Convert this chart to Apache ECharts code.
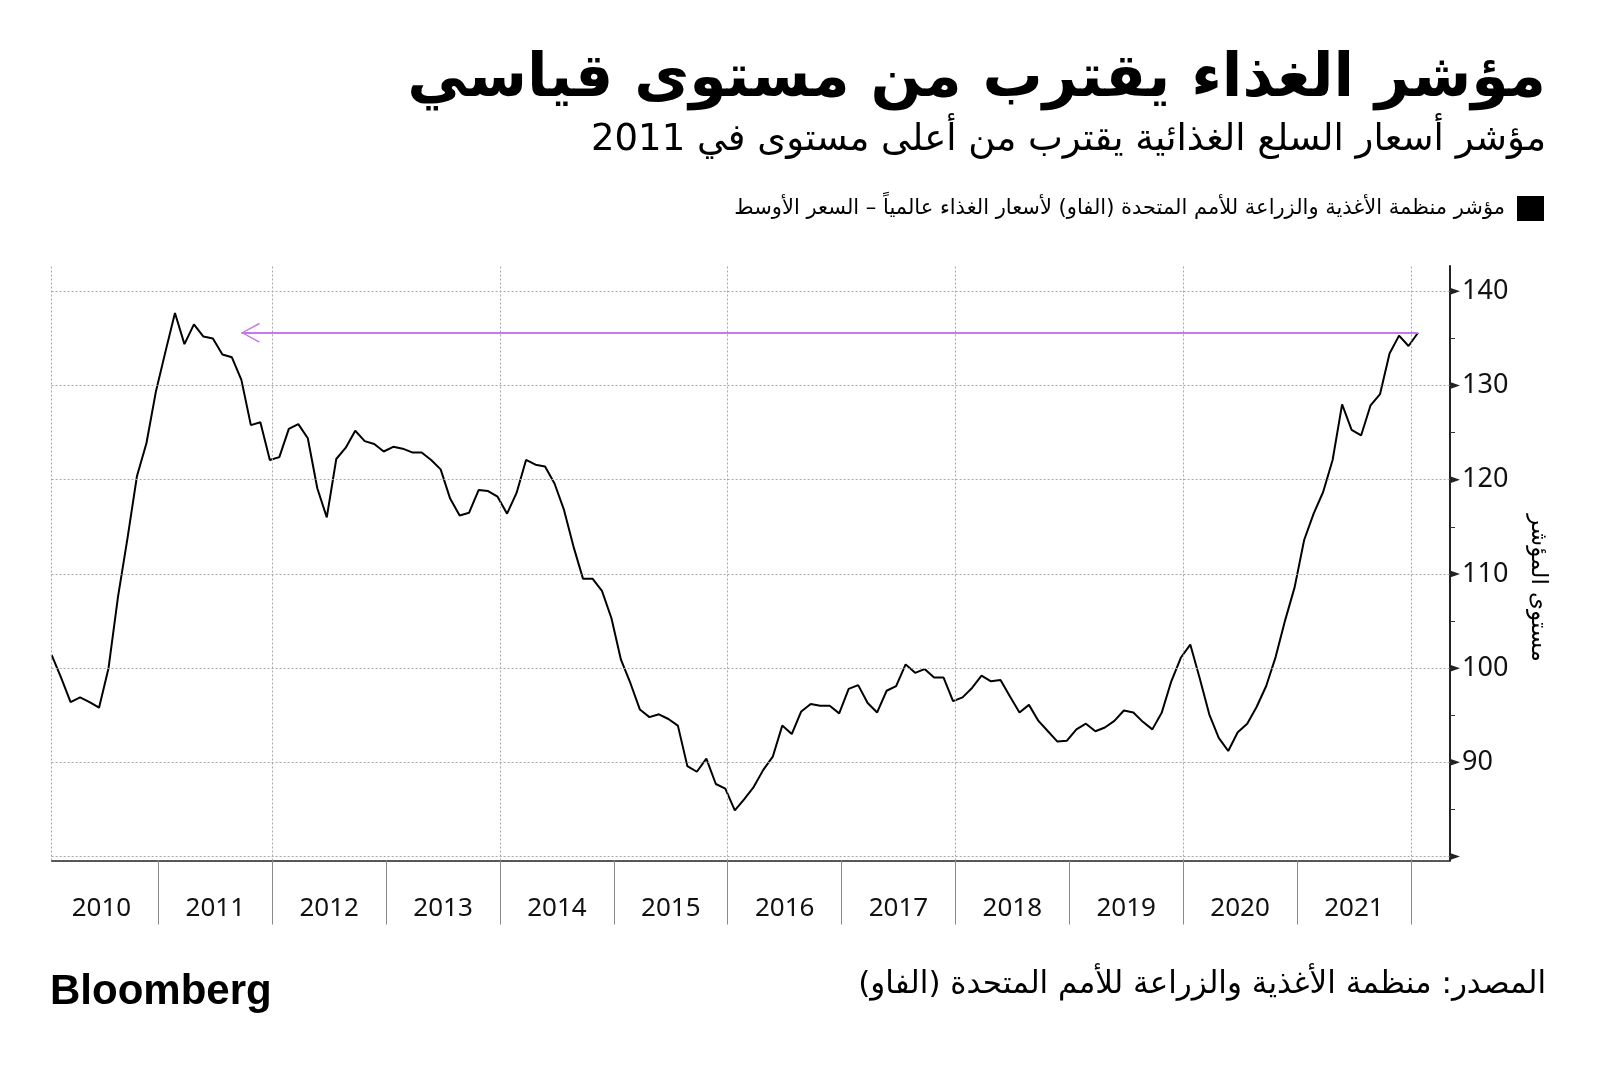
<!DOCTYPE html>
<html><head><meta charset="utf-8">
<script src="https://cdn.jsdelivr.net/npm/echarts@6/dist/echarts.min.js"></script>
<style>html,body{margin:0;padding:0;background:#fff}#c{width:1600px;height:1069px}</style>
</head><body><div id="c"></div>
<script>
// ---- data (FAO Food Price Index, monthly, Jan 2010 – Jan 2022) ----
const years = ['2010','2011','2012','2013','2014','2015','2016','2017','2018','2019','2020','2021'];
const v2010 = [101.4, 99.0, 96.4, 96.9, 96.4, 95.8, 100.0, 107.6, 113.8, 120.4, 123.9, 129.4];
const v2011 = [133.6, 137.7, 134.4, 136.5, 135.2, 135.0, 133.3, 133.0, 130.6, 125.8, 126.1, 122.1];
const v2012 = [122.4, 125.4, 125.9, 124.4, 119.1, 116.0, 122.2, 123.4, 125.2, 124.1, 123.8, 123.0];
const v2013 = [123.5, 123.3, 122.9, 122.9, 122.1, 121.1, 118.0, 116.2, 116.5, 118.9, 118.8, 118.2];
const v2014 = [116.4, 118.6, 122.1, 121.6, 121.4, 119.6, 116.8, 112.9, 109.5, 109.5, 108.2, 105.3];
const v2015 = [100.9, 98.4, 95.6, 94.8, 95.1, 94.6, 93.9, 89.6, 89.0, 90.4, 87.7, 87.2];
const v2016 = [84.9, 86.1, 87.4, 89.2, 90.6, 93.9, 93.0, 95.4, 96.2, 96.0, 96.0, 95.2];
const v2017 = [97.8, 98.2, 96.3, 95.3, 97.6, 98.1, 100.4, 99.5, 99.9, 99.0, 99.0, 96.5];
const v2018 = [96.9, 97.9, 99.2, 98.6, 98.75, 97.0, 95.3, 96.1, 94.4, 93.3, 92.2, 92.3];
const v2019 = [93.5, 94.1, 93.3, 93.7, 94.4, 95.5, 95.3, 94.3, 93.5, 95.3, 98.6, 101.1];
const v2020 = [102.5, 98.9, 95.1, 92.6, 91.2, 93.2, 94.1, 95.9, 98.1, 101.2, 105.1, 108.6];
const v2021 = [113.6, 116.4, 118.7, 122.1, 128.0, 125.3, 124.7, 127.9, 129.1, 133.4, 135.3, 134.2];
const v2022 = [135.6];
const yTickValues = [80, 90, 100, 110, 120, 130, 140];
const yLabelValues = [90, 100, 110, 120, 130, 140];
const yMinorValues = [85, 95, 105, 115, 125, 135];
const recordLevel = 135.6;      // 2011 high reference line
const recordLineFromMonth = 20; // month index where the arrow ends

// ---- texts ----
const TITLE = 'مؤشر الغذاء يقترب من مستوى قياسي';
const SUBTITLE = 'مؤشر أسعار السلع الغذائية يقترب من أعلى مستوى في 2011';
const LEGEND = 'مؤشر منظمة الأغذية والزراعة للأمم المتحدة (الفاو) لأسعار الغذاء عالمياً – السعر الأوسط';
const YNAME = 'مستوى المؤشر';
const SOURCE = 'المصدر: منظمة الأغذية والزراعة للأمم المتحدة (الفاو)\u200F';

// ---- build ----
const allValues = [].concat(v2010, v2011, v2012, v2013, v2014, v2015, v2016, v2017, v2018, v2019, v2020, v2021, v2022);
const seriesData = allValues.map((v, i) => [i, v]);
const lastIdx = allValues.length - 1;
const pointOffset = 0.75; // points sit 0.75 month after the month start
const yearBoundaries = years.map((y, i) => (i + 1) * 12 - pointOffset);
const yearCenters = years.map((y, i) => i * 12 + 6 - pointOffset);
const vGrid = [0].concat(yearBoundaries.filter((b, i) => i % 2 === 1));
const yMin = 79.58, yMax = 142.69, xMax = 147.37;

const gridColor = '#a8a8a8';
const gridLines = []
  .concat(yTickValues.map(v => ({ yAxis: v })))
  .concat(vGrid.map(v => ({ xAxis: v })));

const chevron = 'path://M10,-18L10.01,-18Z M0,18L10,0L20,18L18.6,18.8L10,2.6L1.4,18.8Z';

const chart = echarts.init(document.getElementById('c'), null, { renderer: 'canvas' });
chart.setOption({
  animation: false,
  backgroundColor: '#ffffff',
  grid: { left: 51.6, right: 150, top: 266, bottom: 208.5, containLabel: false, outerBoundsMode: 'none' },
  xAxis: {
    type: 'value', min: 0, max: xMax,
    axisLine: { show: true, onZero: false, lineStyle: { color: '#222', width: 1.5 } },
    axisTick: { show: true, customValues: yearBoundaries, length: 64, lineStyle: { color: '#8a8a8a', width: 1 } },
    axisLabel: {
      customValues: yearCenters,
      formatter: v => years[yearCenters.findIndex(c => Math.abs(c - v) < 0.01)],
      fontSize: 26, fontFamily: 'Noto Sans', color: '#111', margin: 35
    },
    splitLine: { show: false }
  },
  yAxis: [{
    type: 'value', position: 'right', min: yMin, max: yMax,
    axisLine: { show: true, onZero: false, lineStyle: { color: '#222', width: 2 } },
    axisTick: { show: true, customValues: yTickValues, length: 6, lineStyle: { color: '#222', width: 1.5 } },
    axisLabel: { customValues: yLabelValues, fontSize: 27, fontFamily: 'Noto Sans', color: '#111', margin: 12 },
    splitLine: { show: false }
  }, {
    type: 'value', position: 'right', min: yMin, max: yMax,
    axisLine: { show: false, onZero: false },
    axisTick: { show: true, customValues: yMinorValues, length: 5, lineStyle: { color: '#333', width: 1 } },
    axisLabel: { show: false },
    splitLine: { show: false }
  }],
  series: [{
    type: 'line', name: 'grid', data: seriesData, z: 1, silent: true,
    symbol: 'none', lineStyle: { opacity: 0 },
    markLine: {
      silent: true, symbol: ['none', 'none'], label: { show: false },
      lineStyle: { color: gridColor, type: [2, 2], width: 1 },
      emphasis: { disabled: true },
      data: gridLines
    },
    markPoint: {
      silent: true, symbol: 'triangle', symbolSize: [7, 10], symbolRotate: -90, symbolOffset: [5, 0],
      label: { show: false }, itemStyle: { color: '#222' },
      data: yTickValues.map(v => ({ coord: [xMax, v] }))
    }
  }, {
    type: 'line', name: 'FAO', data: seriesData, z: 3,
    symbol: 'none', lineStyle: { color: '#000', width: 2 },
    markLine: {
      silent: true, symbol: [chevron, 'none'], symbolSize: [20, 37],
      label: { show: false }, emphasis: { disabled: true },
      lineStyle: { color: '#c877ee', type: 'solid', width: 2 },
      data: [[{ coord: [recordLineFromMonth, recordLevel] }, { coord: [lastIdx, recordLevel] }]]
    }
  }],
  graphic: [
    { type: 'text', right: 54, top: 50, style: { text: TITLE, font: 'bold 60px "DejaVu Sans"', fill: '#000' } },
    { type: 'text', right: 54, top: 122, style: { text: SUBTITLE, font: '37px "DejaVu Sans"', fill: '#000' } },
    { type: 'rect', left: 1517, top: 196, shape: { width: 27, height: 25 }, style: { fill: '#000' } },
    { type: 'text', right: 95, top: 198, style: { text: LEGEND, font: '21px "DejaVu Sans"', fill: '#000' } },
    { type: 'text', x: 1538, y: 588, rotation: -Math.PI / 2, style: { text: YNAME, font: '23px "DejaVu Sans"', fill: '#000', align: 'center', verticalAlign: 'middle' } },
    { type: 'text', right: 54, top: 969, style: { text: SOURCE, font: '31px "DejaVu Sans"', fill: '#000' } },
    { type: 'text', left: 50, top: 971, style: { text: 'Bloomberg', font: 'bold 42px "Liberation Sans"', fill: '#000' } }
  ]
});
</script></body></html>
